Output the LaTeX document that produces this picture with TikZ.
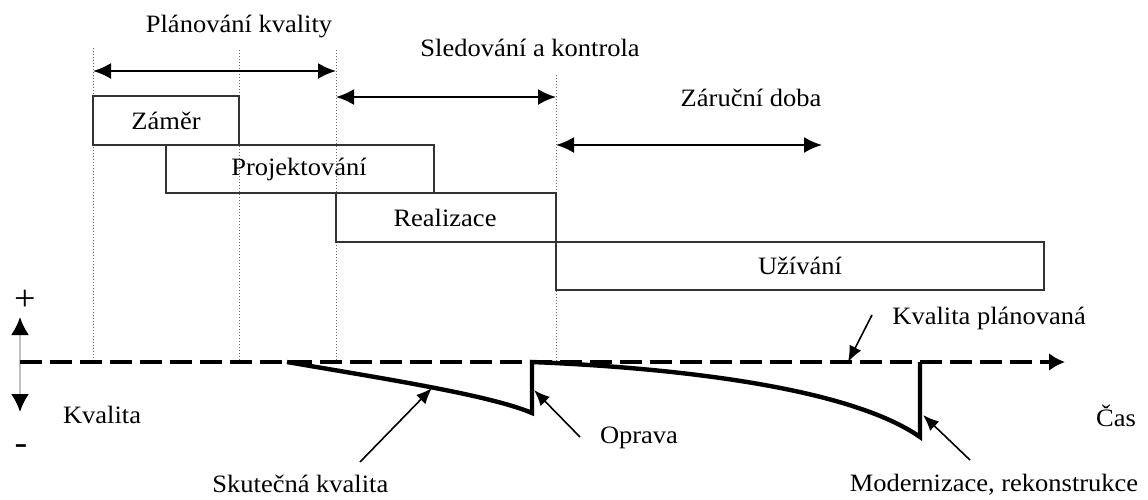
\documentclass[tikz,border=0pt]{standalone}
\usepackage{fontspec}
\setmainfont[FakeStretch=1.06]{Liberation Serif}
\usetikzlibrary{arrows.meta}

\begin{document}
\begin{tikzpicture}[x=0.5pt,y=-0.5pt,
    every node/.style={font=\fontsize{12.5}{15}\selectfont, inner sep=0pt},
    phase/.style={draw=black!80, line width=0.75pt},
    guide/.style={densely dotted, line width=0.5pt, black!60},
    span/.style={{Latex[length=9pt,width=8pt]}-{Latex[length=9pt,width=8pt]}, line width=1.1pt},
    pointer/.style={-{Latex[length=8pt,width=6.5pt]}, line width=0.8pt},
    real/.style={line width=2.2pt, line join=miter}]
  \useasboundingbox (0,0) rectangle (1148,499);

  % vertical guides
  \draw[guide] (93,48) -- (93,362);
  \draw[guide] (239,50) -- (239,362);
  \draw[guide] (336,50) -- (336,362);
  \draw[guide] (556,75) -- (556,362);

  % phases
  \node (plan) at (239,27) {Plánování kvality};
  \node[anchor=west] (sled) at (420,48) {Sledování a kontrola};
  \node (zaruka) at (751,98) {Záruční doba};

  \coordinate (p0) at (93,71);
  \coordinate (p1) at (336,71);
  \coordinate (s0) at (336,97);
  \coordinate (s1) at (556,97);
  \coordinate (z0) at (556,145);
  \coordinate (z1) at (822,145);
  \draw[span] (p0) -- (p1);
  \draw[span] (s0) -- (s1);
  \draw[span] (z0) -- (z1);

  % stages
  \draw[phase] (93,96) rectangle (239,145);
  \node (zamer) at (166,121) {Záměr};
  \draw[phase] (166,145) rectangle (434,193);
  \node (projekt) at (299,169) {Projektování};
  \draw[phase] (336,193) rectangle (556,242);
  \node (realiz) at (445,218) {Realizace};
  \draw[phase] (556,242) rectangle (1044,290);
  \node (uzivani) at (800,266) {Užívání};

  % quality axis
  \node[font=\fontsize{18}{20}\selectfont] (plus) at (25,300) {+};
  \node[font=\fontsize{18}{20}\selectfont] (minus) at (21,450) {-};
  \coordinate (q0) at (20,317);
  \coordinate (q1) at (20,412);
  \draw[black!25, line width=1.2pt, {Latex[black,length=9pt,width=9pt]}-{Latex[black,length=9pt,width=9pt]}] (q0) -- (q1);
  \node (kvalita) at (102,415) {Kvalita};

  \coordinate (t0) at (20,362);
  \coordinate (t1) at (1065,362);
  \draw[line width=1.6pt, dash pattern=on 11pt off 4pt, -{Latex[length=8pt,width=9pt]}] (t0) -- (t1);
  \node (cas) at (1116,416) {Čas};

  % actual quality
  \draw[real] (287,362) .. controls (380,378) and (490,395) .. (532,413)
    -- (532,362) .. controls (680,368) and (850,388) .. (920,437) -- (920,362);

  % labels with pointers
  \node[anchor=west] (kvplan) at (892,318) {Kvalita plánovaná};
  \coordinate (k0) at (872,315);
  \coordinate (k1) at (848,362);
  \draw[pointer] (k0) -- (k1);

  \node[anchor=west] (skut) at (212,484) {Skutečná kvalita};
  \coordinate (r0) at (360,462);
  \coordinate (r1) at (432,388);
  \draw[pointer] (r0) -- (r1);

  \node (oprava) at (639,438) {Oprava};
  \coordinate (o0) at (580,437);
  \coordinate (o1) at (534,390);
  \draw[pointer] (o0) -- (o1);

  \node (modern) at (994,485) {Modernizace, rekonstrukce};
  \coordinate (m0) at (970,460);
  \coordinate (m1) at (923,415);
  \draw[pointer] (m0) -- (m1);
\end{tikzpicture}
\end{document}
